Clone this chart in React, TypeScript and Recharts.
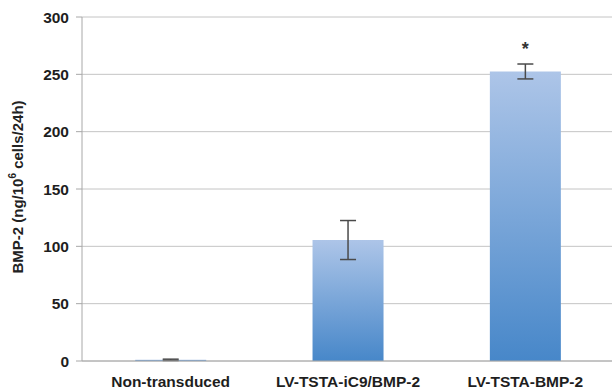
import React from 'react';
import {
  BarChart,
  Bar,
  XAxis,
  YAxis,
  CartesianGrid,
  ErrorBar,
  LabelList,
  Label,
} from 'recharts';

const groups = ['Non-transduced', 'LV-TSTA-iC9/BMP-2', 'LV-TSTA-BMP-2'];
const bmp2 = [1, 105.5, 252.5];
const sd = [0.6, 17, 6.5];
const marks = ['', '', '*'];
const yTicks = [0, 50, 100, 150, 200, 250, 300];

const data = groups.map((name, i) => ({
  name,
  value: bmp2[i],
  err: sd[i],
  mark: marks[i],
  pos: i,
}));

const FONT = '"Liberation Sans", Arial, sans-serif';

function YTitle(props: any) {
  const vb = props.viewBox || {};
  const cx = vb.x + 17;
  const cy = vb.y + vb.height / 2 - 2;
  return (
    <text
      x={cx}
      y={cy}
      transform={`rotate(-90, ${cx}, ${cy})`}
      textAnchor="middle"
      dominantBaseline="central"
      fontFamily={FONT}
      fontWeight="bold"
      fontSize={15}
      fill="#222"
    >
      BMP-2 (ng/10
      <tspan dy={-5} fontSize={10}>6</tspan>
      <tspan dy={5}> cells/24h)</tspan>
    </text>
  );
}

export default function App() {
  return (
    <div style={{ position: 'absolute', left: 0, top: 0, background: '#fff' }}>
      <BarChart
        width={612}
        height={389}
        data={data}
        margin={{ top: 17, right: -2, left: 0, bottom: 0 }}
        barCategoryGap="30%"
      >
        <defs>
          <linearGradient id="barFill" x1="0" y1="0" x2="0" y2="1">
            <stop offset="0%" stopColor="#adc5e8" />
            <stop offset="100%" stopColor="#4787c9" />
          </linearGradient>
        </defs>
        <CartesianGrid vertical={false} stroke="#c4c4c4" />
        <XAxis
          xAxisId="sep"
          type="number"
          dataKey="pos"
          domain={[-0.5, 2.5]}
          ticks={[-0.5, 0.5, 1.5, 2.5]}
          tick={false}
          tickSize={6}
          tickLine={{ stroke: '#a8a8a8' }}
          axisLine={false}
          height={0}
        />
        <XAxis
          dataKey="name"
          height={28}
          axisLine={{ stroke: '#a8a8a8' }}
          tickLine={false}
          tickMargin={9}
          interval={0}
          tick={{ fontFamily: FONT, fontWeight: 'bold', fontSize: 15.5, fill: '#1e1e1e' }}
        />
        <YAxis
          width={82}
          domain={[0, 300]}
          ticks={yTicks}
          tickSize={6}
          tickMargin={7}
          axisLine={{ stroke: '#a8a8a8' }}
          tickLine={{ stroke: '#a8a8a8' }}
          tick={{ fontFamily: FONT, fontWeight: 'bold', fontSize: 15.5, fill: '#1e1e1e' }}
        >
          <Label content={<YTitle />} />
        </YAxis>
        <Bar dataKey="value" fill="url(#barFill)" isAnimationActive={false}>
          <ErrorBar dataKey="err" width={8} stroke="#4a4a4a" strokeWidth={1.5} />
          <LabelList
            dataKey="mark"
            position="top"
            offset={16}
            fontFamily={FONT}
            fontWeight="bold"
            fontSize={18}
            fill="#333"
          />
        </Bar>
      </BarChart>
    </div>
  );
}
